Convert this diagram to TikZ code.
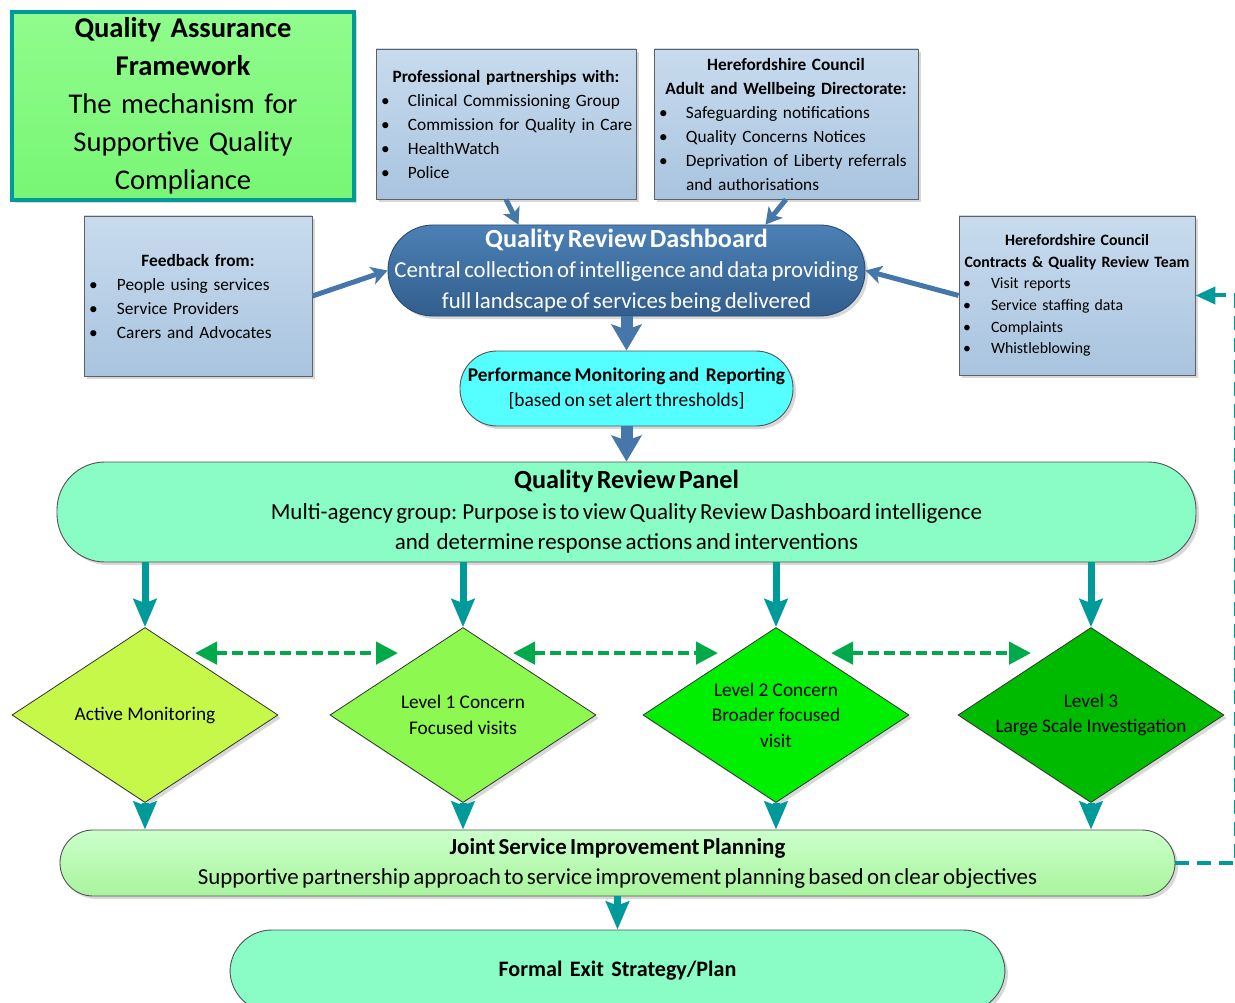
\documentclass[tikz,border=0pt]{standalone}
\usepackage{fontspec}
\setmainfont{Carlito}
\usetikzlibrary{arrows.meta,shapes.geometric,shadows,calc}
\definecolor{tealc}{HTML}{009A9A}
\definecolor{bluec}{HTML}{4677AA}
\definecolor{dgreen}{HTML}{00AA4A}
\definecolor{boxtop}{HTML}{C8DBEE}
\definecolor{boxbot}{HTML}{A9C4DF}
\definecolor{dashtop}{HTML}{4C80B4}
\definecolor{dashbot}{HTML}{325E8E}
\definecolor{qafill}{HTML}{90FC8C}
\definecolor{qafill2}{HTML}{78F674}
\definecolor{mint}{HTML}{8AFDC6}
\definecolor{cyanf}{HTML}{55FFFF}
\definecolor{jtop}{HTML}{CCFFCC}
\definecolor{jbot}{HTML}{A8F49C}
\definecolor{dA}{HTML}{C6F84A}
\definecolor{dB}{HTML}{8CF850}
\definecolor{dC}{HTML}{00EE00}
\definecolor{dD}{HTML}{00BA00}
\newcommand{\bulitem}[2][27pt]{\par\noindent\makebox[#1][l]{\textbullet}\mbox{#2}}
\tikzset{
  shad/.style={drop shadow={opacity=0.3,shadow xshift=3pt,shadow yshift=-3pt}},
  infobox/.style={draw=gray!75!black,line width=0.9pt,top color=boxtop,bottom color=boxbot,shad,inner xsep=5pt,inner ysep=0pt,font=\fontsize{17.3}{24}\selectfont},
  pill/.style={draw=gray!65!black,line width=0.9pt,shad,inner xsep=0pt,inner ysep=0pt,align=center},
  dia/.style={shape=diamond,aspect=1.52,draw=gray!40!black,line width=0.8pt,shad,minimum width=266pt,minimum height=175pt,inner sep=0pt,align=center,font=\fontsize{19.3}{25.5}\selectfont},
  bluearrow/.style={draw=bluec,line width=5pt,-{Stealth[length=16pt,width=18pt,inset=4pt]}},
  bigblue/.style={draw=bluec,line width=12pt,-{Stealth[length=26pt,width=30pt,inset=5pt]}},
  tealarrow/.style={draw=tealc,line width=7pt,-{Stealth[length=28pt,width=23pt,inset=4pt]}},
  greendash/.style={draw=dgreen,line width=4.5pt,dash pattern=on 11pt off 5pt,{Triangle[length=22pt,width=22pt]}-{Triangle[length=22pt,width=22pt]}},
  fbdash/.style={draw=tealc,line width=4pt,dash pattern=on 14pt off 8pt,-{Triangle[length=20pt,width=17pt]}}
}
\begin{document}
\begin{tikzpicture}[x=1pt,y=-1pt]
\useasboundingbox (0,0) rectangle (1235,1003);
\clip (0,0) rectangle (1235,1003);
\fill[white] (0,0) rectangle (1235,1003);

% title box
\node[draw=tealc,line width=4pt,top color=qafill,bottom color=qafill2,shad,minimum width=342pt,minimum height=188pt,text width=334pt,align=center,inner sep=0pt,font=\fontsize{28.6}{38}\selectfont] (qaf) at (183,106)
{\bfseries Quality Assurance\\ Framework\\ \mdseries The mechanism for\\ Supportive Quality\\ Compliance\par};

% info boxes
\node[infobox,minimum height=150pt,text width=250pt] (prof) at (506,124)
{{\centering\bfseries Professional partnerships with:\par}
\bulitem{Clinical Commissioning Group}
\bulitem{Commission for Quality in Care}
\bulitem{HealthWatch}
\bulitem{Police}\par};

\node[infobox,minimum height=150pt,text width=254pt] (adult) at (786,124)
{{\centering\bfseries Herefordshire Council\\ Adult and Wellbeing Directorate:\par}
\bulitem{Safeguarding notifications}
\bulitem{Quality Concerns Notices}
\bulitem{Deprivation of Liberty referrals}
\par\noindent\hspace*{27pt}and authorisations\par};

\node[infobox,minimum height=160pt,text width=218pt] (feed) at (198,296)
{{\centering\bfseries Feedback from:\par}
\bulitem[28pt]{People using services}
\bulitem[28pt]{Service Providers}
\bulitem[28pt]{Carers and Advocates}\par};

\node[infobox,inner xsep=4pt,minimum height=159pt,text width=228pt,font=\fontsize{15.8}{21.7}\selectfont] (contr) at (1077,295.5)
{{\centering\bfseries Herefordshire Council\\ Contracts \& Quality Review Team\par}
\bulitem[28pt]{Visit reports}
\bulitem[28pt]{Service staffing data}
\bulitem[28pt]{Complaints}
\bulitem[28pt]{Whistleblowing}\par};

% dashboard
\node[pill,rounded corners=45pt,top color=dashtop,bottom color=dashbot,draw=dashbot!80!black,minimum width=477pt,minimum height=91pt,text width=477pt,text=white] (dash) at (626.5,270.5)
{{\fontsize{26.2}{30}\selectfont\bfseries Quality Review Dashboard\par}
\fontsize{22.8}{30.5}\selectfont Central collection of intelligence and data providing\\ full landscape of services being delivered\par};

\node[pill,rounded corners=37pt,fill=cyanf,minimum width=333pt,minimum height=75pt,text width=333pt] (perf) at (626.5,388.5)
{{\fontsize{19.4}{25}\selectfont\bfseries Performance Monitoring and\ \ Reporting\par}
\fontsize{19.4}{25}\selectfont [based on set alert thresholds]\par};

\node[pill,rounded corners=48pt,fill=mint,minimum width=1139pt,minimum height=100pt,text width=1100pt] (panel) at (626.5,512)
{{\fontsize{26.2}{30}\selectfont\bfseries Quality Review Panel\par}
\fontsize{23}{30.5}\selectfont Multi-agency group: Purpose is to view Quality Review Dashboard intelligence\\ and\ \ determine response actions and interventions\par};

% diamonds
\node[dia,fill=dA] (d1) at (145,715) {Active Monitoring};
\node[dia,fill=dB] (d2) at (463,715) {Level 1 Concern\\ Focused visits};
\node[dia,fill=dC] (d3) at (776,715) {Level 2 Concern\\ Broader focused\\ visit};
\node[dia,fill=dD] (d4) at (1091,715) {Level 3\\ Large Scale Investigation};

\node[pill,rounded corners=33pt,top color=jtop,bottom color=jbot,minimum width=1115pt,minimum height=66pt,text width=1080pt] (jsip) at (617.5,863)
{{\fontsize{22.9}{30}\selectfont\bfseries Joint Service Improvement Planning\par}
\fontsize{22.9}{30}\selectfont Supportive partnership approach to service improvement planning based on clear objectives\par};

\node[pill,rounded corners=42pt,fill=mint,minimum width=775pt,minimum height=82pt,text width=700pt,font=\fontsize{22.1}{30}\selectfont\bfseries] (exitp) at (617.5,971)
{Formal Exit Strategy/Plan\par};

% blue arrows
\draw[bluearrow] (prof.south) -- ([xshift=-108pt]dash.north);
\draw[bluearrow] (adult.south) -- ([xshift=139pt]dash.north);
\draw[bluearrow] (feed.east) -- (dash.west);
\draw[bluearrow] (contr.west) -- (dash.east);
\draw[bigblue] (dash.south) -- (perf.north);
\draw[bigblue] (perf.south) -- (panel.north);

% teal arrows
\foreach \d in {d1,d2,d3,d4}{
  \draw[tealarrow] (panel.south -| \d.north) -- (\d.north);
  \draw[tealarrow] (\d.south) -- (\d.south |- jsip.north);
}
\draw[tealarrow] (jsip.south) -- (exitp.north);

% dashed green double arrows
\draw[greendash] ([shift={(50,26)}]d1.north) -- ([shift={(-65,26)}]d2.north);
\draw[greendash] ([shift={(50,26)}]d2.north) -- ([shift={(-58,26)}]d3.north);
\draw[greendash] ([shift={(55,26)}]d3.north) -- ([shift={(-60,26)}]d4.north);

% feedback loop
\coordinate (fb1) at (1236,863);
\coordinate (fb2) at (1236,295.5);
\draw[fbdash] (jsip.east) -- (fb1) -- (fb2) -- (contr.east);
\end{tikzpicture}
\end{document}
